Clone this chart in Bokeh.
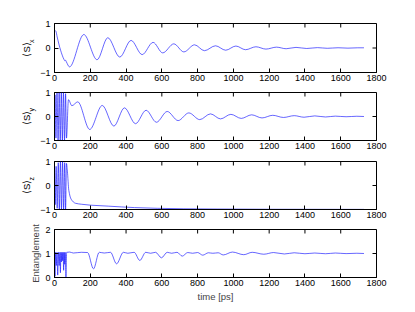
import math
from bokeh.plotting import figure
from bokeh.models import LinearAxis, Range1d, FixedTicker
from bokeh.layouts import column
from bokeh.embed import file_html
from bokeh.resources import INLINE

# ---------------- data ----------------
x_ticks = [0, 200, 400, 600, 800, 1000, 1200, 1400, 1600, 1800]
s_ticks = [-1, 0, 1]
e_ticks = [0, 1, 2]

sx_t = [0, 8, 15, 34, 52, 58, 62, 66, 84, 164, 238, 298, 365, 428, 490, 551, 605, 667, 723, 783,
        838, 900, 957, 1014, 1068, 1126, 1182, 1241, 1295, 1350, 1410, 1470, 1525, 1585, 1640, 1695, 1730]
sx_v = [0.74, 0.68, 0.45, -0.09, -0.45, -0.52, -0.5, -0.56, -0.77, 0.55, -0.48, 0.42, -0.37, 0.31, -0.27,
        0.23, -0.2, 0.17, -0.16, 0.13, -0.11, 0.09, -0.09, 0.08, -0.07, 0.05, -0.045, 0.035, -0.03,
        0.025, -0.02, 0.015, -0.012, 0.01, -0.006, 0.008, 0.008]

sy_t = [0, 3, 8, 14, 20, 26, 32, 38, 44, 50, 56, 62, 67, 78, 97, 130, 197, 267, 332, 391, 453, 512,
        570, 630, 691, 751, 812, 872, 928, 986, 1044, 1102, 1160, 1220, 1280, 1340, 1395, 1455, 1515,
        1570, 1630, 1690, 1730]
sy_v = [0.0, 0.9, -0.9, 0.98, -1.0, 1.0, -1.0, 1.0, -1.0, 1.0, -1.0, 0.95, -0.9, 0.7, 0.45, 0.61,
        -0.54, 0.46, -0.4, 0.36, -0.3, 0.26, -0.24, 0.21, -0.17, 0.15, -0.13, 0.11, -0.1, 0.09, -0.08,
        0.07, -0.06, 0.05, -0.04, 0.035, -0.03, 0.025, -0.02, 0.015, -0.01, 0.01, 0.0]

sz_t = [0, 4, 9, 15, 21, 27, 33, 39, 45, 51, 57, 62, 67, 72, 80, 93, 117, 150, 201, 300, 447, 574,
        723, 909, 1200, 1730]
sz_v = [0.7, -0.8, 0.8, -0.95, 0.95, -1.0, 1.0, -1.0, 1.0, -1.0, 0.95, -1.0, 0.92, 0.6, -0.2, -0.57,
        -0.74, -0.78, -0.82, -0.86, -0.92, -0.95, -0.97, -0.98, -0.99, -0.995]

ent_t = [0, 3, 6, 10, 14, 18, 22, 26, 30, 33, 36, 39, 42, 45, 48, 51, 54, 57, 60, 64, 68, 85, 105,
         150, 185, 218, 250, 278, 313, 347, 385, 410, 445, 477, 510, 537, 565, 598, 630, 655, 685,
         714, 745, 772, 800, 829, 860, 885, 915, 943, 995, 1058, 1105, 1170, 1225, 1285, 1340, 1400,
         1455, 1515, 1570, 1630, 1690, 1730]
ent_v = [1.05, 0.05, 1.05, 0.5, 1.05, 0.1, 1.05, 0.5, 1.05, 0.2, 1.05, 0.65, 1.05, 0.7, 1.05, 0.3,
         1.05, 0.55, 1.05, 0.0, 1.05, 1.06, 1.02, 1.05, 1.04, 0.36, 1.05, 1.02, 1.05, 0.57, 1.05,
         1.01, 1.05, 0.71, 1.05, 1.01, 1.05, 0.82, 1.05, 1.01, 1.05, 0.89, 1.04, 1.01, 1.04, 0.93,
         1.03, 1.01, 1.03, 0.94, 1.06, 0.95, 1.05, 0.97, 1.04, 0.98, 1.03, 0.99, 1.02, 0.99, 1.02,
         0.995, 1.01, 1.0]

# ---------------- styling ----------------
FONT = "Liberation Sans"
LINE_COLOR = "#0000ff"
NBSP = "\u00a0"


def smooth_segments(t, v):
    """Monotone cubic (PCHIP-style) Bezier control points through the given points."""
    n = len(t)
    h = [t[i + 1] - t[i] for i in range(n - 1)]
    d = [(v[i + 1] - v[i]) / h[i] for i in range(n - 1)]
    m = [0.0] * n
    m[0] = d[0]
    m[-1] = d[-1]
    for i in range(1, n - 1):
        if d[i - 1] * d[i] <= 0:
            m[i] = 0.0
        else:
            w1 = 2 * h[i] + h[i - 1]
            w2 = h[i] + 2 * h[i - 1]
            m[i] = (w1 + w2) / (w1 / d[i - 1] + w2 / d[i])
    return dict(
        x0=t[:-1], y0=v[:-1], x1=t[1:], y1=v[1:],
        cx0=[t[i] + h[i] / 3 for i in range(n - 1)],
        cy0=[v[i] + m[i] * h[i] / 3 for i in range(n - 1)],
        cx1=[t[i + 1] - h[i] / 3 for i in range(n - 1)],
        cy1=[v[i + 1] - m[i + 1] * h[i] / 3 for i in range(n - 1)],
    )


def style_axis(ax, ticks, overrides=None):
    ax.ticker = FixedTicker(ticks=ticks)
    ax.minor_tick_line_color = None
    ax.major_tick_in = 4
    ax.major_tick_out = 0
    ax.axis_line_color = "black"
    ax.major_tick_line_color = "black"
    ax.major_label_text_font = FONT
    ax.major_label_text_color = "black"
    ax.major_label_text_font_size = "9px"
    if overrides:
        ax.major_label_overrides = overrides


def label_axis(p, text, size, standoff):
    """A tick-less left axis that only carries a (partial) y label."""
    ax = LinearAxis(ticker=FixedTicker(ticks=[]))
    ax.axis_line_color = None
    ax.major_tick_line_color = None
    ax.minor_tick_line_color = None
    ax.major_tick_in = 0
    ax.major_tick_out = 0
    ax.major_label_standoff = 0
    ax.axis_label = text
    ax.axis_label_text_font = FONT
    ax.axis_label_text_font_size = size
    ax.axis_label_text_font_style = "normal"
    ax.axis_label_text_color = "black"
    ax.axis_label_standoff = standoff
    p.add_layout(ax, "left")


def make_fig(height, top, bottom, yr, yt, t, v, sub=None, ylabel=None, xlabel=None):
    p = figure(width=407, height=height, output_backend="svg", toolbar_location=None,
               x_range=Range1d(0, 1800), y_range=Range1d(*yr),
               min_border_left=54, min_border_right=31,
               min_border_top=top, min_border_bottom=bottom,
               x_axis_location=None, y_axis_location=None)
    p.grid.visible = False
    p.outline_line_color = "black"
    p.outline_line_width = 1
    p.background_fill_color = "white"
    p.border_fill_color = "white"

    ov = {-1: "\u22121", 0: "0", 1: "1", 2: "2"}
    xb = LinearAxis()
    style_axis(xb, x_ticks)
    xb.major_label_standoff = 2
    if xlabel:
        xb.axis_label = xlabel
        xb.axis_label_text_font = FONT
        xb.axis_label_text_font_size = "9.5px"
        xb.axis_label_text_font_style = "normal"
        xb.axis_label_standoff = 2
    p.add_layout(xb, "below")

    yl = LinearAxis()
    style_axis(yl, yt, overrides=ov)
    yl.major_label_standoff = 4
    if ylabel:
        yl.axis_label = ylabel
        yl.axis_label_text_font = FONT
        yl.axis_label_text_font_size = "9.5px"
        yl.axis_label_text_font_style = "normal"
        yl.axis_label_standoff = 1
    p.add_layout(yl, "left")

    if sub:
        # subscript: nearer the axis and pushed up (leading no-break spaces)
        label_axis(p, NBSP * 7 + sub, "7px", 3)
        # bracket term: further out, nudged slightly down
        label_axis(p, "\u27e8S\u27e9" + NBSP, "9.5px", -7)

    # inward ticks on the top and right edges of the box
    p.ray(x=x_ticks, y=[yr[1]] * len(x_ticks), length=4, length_units="screen",
          angle=-math.pi / 2, line_color="black", line_width=1)
    p.ray(x=[1800] * len(yt), y=yt, length=4, length_units="screen",
          angle=math.pi, line_color="black", line_width=1)

    seg = smooth_segments(t, v)
    p.bezier(x0="x0", y0="y0", x1="x1", y1="y1", cx0="cx0", cy0="cy0", cx1="cx1", cy1="cy1",
             source=seg, line_color=LINE_COLOR, line_width=0.6)
    return p


p1 = make_fig(86, 23, 14, (-1, 1), s_ticks, sx_t, sx_v, sub="x")
p2 = make_fig(68, 6, 14, (-1, 1), s_ticks, sy_t, sy_v, sub="y")
p3 = make_fig(69, 7, 14, (-1, 1), s_ticks, sz_t, sz_v, sub="z")
p4 = make_fig(81, 6, 27, (0, 2), e_ticks, ent_t, ent_v, ylabel="Entanglement", xlabel="time [ps]")

layout = column(p1, p2, p3, p4, spacing=0)

open("out.html", "w").write(file_html(layout, INLINE))
